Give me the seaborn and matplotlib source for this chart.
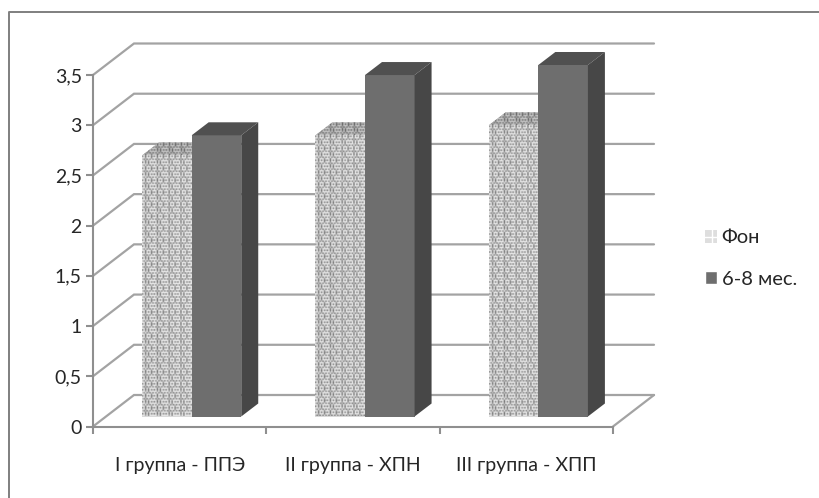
import numpy as np
import pandas as pd
import matplotlib
matplotlib.use("Agg")
import matplotlib.pyplot as plt
import seaborn as sns
from matplotlib.lines import Line2D
from matplotlib.patches import Patch, Polygon
from matplotlib.transforms import ScaledTranslation

groups = ["I группа - ППЭ", "II группа - ХПН", "III группа - ХПП"]
series_names = ["Фон", "6-8 мес."]
baseline_values = [2.6, 2.8, 2.9]
followup_values = [2.8, 3.4, 3.5]
y_ticks = [0, 0.5, 1, 1.5, 2, 2.5, 3, 3.5]
y_labels = ["0", "0,5", "1", "1,5", "2", "2,5", "3", "3,5"]

W, H, DPI = 820, 498, 100
LEFT, RIGHT, TOP, BOTTOM = 93, 613, 75, 426.5
WALL_DX, WALL_DY = 41, 31.5    # depth of the chart box, px
BAR_DX, BAR_DY = 12, 10        # front face of the bars inside the box, px
DEPTH_DX, DEPTH_DY = 17, 13    # depth of each bar, px
GRID = "#a3a3a3"
AXIS = "#8f8f8f"
TEXT = "#262626"

sns.set_theme(style="white")
plt.rcParams["font.family"] = ["Lato", "Open Sans", "DejaVu Sans"]

df = pd.DataFrame({
    "group": groups * 2,
    "value": baseline_values + followup_values,
    "series": [series_names[0]] * 3 + [series_names[1]] * 3,
})

fig = plt.figure(figsize=(W / DPI, H / DPI), dpi=DPI, facecolor="white")
ax = fig.add_axes([LEFT / W, 1 - BOTTOM / H, (RIGHT - LEFT) / W, (BOTTOM - TOP) / H])

sns.barplot(data=df, x="group", y="value", hue="series", hue_order=series_names,
            palette=["#d9d9d9", "#6e6e6e"], width=0.572, gap=0, dodge=True,
            saturation=1, legend=False, ax=ax, zorder=5)
ax.set_xlim(-0.5, 2.5)
ax.set_ylim(0, 3.5)
ax.set_xlabel("")
ax.set_ylabel("")
ax.patch.set_alpha(0)
for side in ("top", "right"):
    ax.spines[side].set_visible(False)
for side in ("left", "bottom"):
    ax.spines[side].set_color(AXIS)
    ax.spines[side].set_linewidth(1.5)
    ax.spines[side].set_zorder(3)

ax.set_yticks(y_ticks, y_labels)
ax.set_xticks([-0.5, 0.5, 1.5, 2.5], minor=True)
ax.set_xticks(range(3), groups)
ax.tick_params(axis="y", length=5, width=1.5, color=AXIS, pad=3, labelsize=14, labelcolor=TEXT, left=True)
ax.tick_params(axis="x", which="minor", length=5, width=1.5, color=AXIS, bottom=True)
ax.tick_params(axis="x", which="major", length=0, pad=22, labelsize=14, labelcolor=TEXT)


def px_offset(dx, dy):
    return ax.transData + ScaledTranslation(dx / DPI, dy / DPI, fig.dpi_scale_trans)


# Back wall and floor: each gridline runs back along the side wall, then across.
# They sit below the axes so the bars cover them.
back = px_offset(WALL_DX, WALL_DY)
for tick in y_ticks:
    x_px, y_px = ax.transData.transform((-0.5, tick))
    xb_px, yb_px = back.transform((-0.5, tick))
    xe_px, _ = back.transform((2.5, tick))
    fig.add_artist(Line2D([x_px / W, xb_px / W, xe_px / W],
                          [y_px / H, yb_px / H, yb_px / H],
                          color=GRID, lw=1.6, zorder=-1, solid_joinstyle="miter"))
x0_px, y0_px = ax.transData.transform((2.5, 0))
xb_px, yb_px = back.transform((2.5, 0))
fig.add_artist(Line2D([x0_px / W, xb_px / W], [y0_px / H, yb_px / H], color=GRID, lw=1.6, zorder=-1))

# Woven fill tile for the baseline series
tile = np.array([
    [.90, .88, .54, .90, .88, .90, .62, .90],
    [.56, .86, .46, .88, .52, .86, .50, .68],
    [.90, .88, .60, .90, .88, .90, .56, .88],
    [.78, .52, .74, .50, .80, .54, .82, .56],
    [.90, .86, .56, .88, .64, .90, .88, .90],
    [.52, .88, .48, .86, .46, .88, .56, .74],
    [.88, .90, .68, .88, .58, .90, .88, .90],
    [.82, .56, .88, .54, .76, .50, .80, .52],
])
CELL_PX = 1.5


def woven(x0, x1, y0, y1, clip, scale=1.0, zorder=5.1):
    # Repeat the tile at a fixed pixel size, whatever the size of the face
    sx = ax.transData.transform((1, 0))[0] - ax.transData.transform((0, 0))[0]
    sy = ax.transData.transform((0, 1))[1] - ax.transData.transform((0, 0))[1]
    rows = int(abs(y1 - y0) * sy / CELL_PX) + 1
    cols = int(abs(x1 - x0) * sx / CELL_PX) + 1
    tex = np.tile(tile, (rows // 8 + 1, cols // 8 + 1))[:rows, :cols]
    img = ax.imshow(tex * scale, cmap="gray", vmin=0, vmax=1, extent=(x0, x1, y0, y1),
                    aspect="auto", interpolation="bilinear", zorder=zorder,
                    transform=px_offset(BAR_DX, BAR_DY))
    img.set_clip_path(clip)


n_bars = len(groups)
u_x = 1 / (ax.transData.transform((1, 0))[0] - ax.transData.transform((0, 0))[0])
u_y = 1 / (ax.transData.transform((0, 1))[1] - ax.transData.transform((0, 0))[1])
front = px_offset(BAR_DX, BAR_DY)
for i, bar in enumerate(list(ax.patches[:2 * n_bars])):
    bar.set_transform(front)
    bar.set_clip_on(False)
    bar.set_edgecolor("none")
    x0, x1 = bar.get_x(), bar.get_x() + bar.get_width()
    h = bar.get_height()
    dx, dy = DEPTH_DX * u_x, DEPTH_DY * u_y
    top_pts = [(x0, h), (x1, h), (x1 + dx, h + dy), (x0 + dx, h + dy)]
    side_pts = [(x1, 0), (x1 + dx, dy), (x1 + dx, h + dy), (x1, h)]
    if i < n_bars:
        top = Polygon(top_pts, closed=True, fc="#a8a8a8", ec="none", transform=front,
                      clip_on=False, zorder=5)
        ax.add_patch(top)
        woven(x0, x1 + dx, h, h + dy, top, 0.85)
        woven(x0, x1, 0, h, bar)
    else:
        ax.add_patch(Polygon(top_pts, closed=True, fc="#505050", ec="none", transform=front,
                             clip_on=False, zorder=5.3))
        ax.add_patch(Polygon(side_pts, closed=True, fc="#474747", ec="none", transform=front,
                             clip_on=False, zorder=5.3))
        bar.set_zorder(5.3)

ax.set_xlim(-0.5, 2.5)
ax.set_ylim(0, 3.5)

plt.rcParams["hatch.color"] = "#b0b0b0"
ax.legend(handles=[Patch(fc="#dedede", lw=0, hatch="++", label=series_names[0]),
                   Patch(fc="#6e6e6e", label=series_names[1])],
          loc="center left", bbox_to_anchor=(705 / W, 1 - 258.5 / H),
          bbox_transform=fig.transFigure, frameon=False, fontsize=14.5,
          handlelength=0.62, handleheight=0.62, handletextpad=0.2, labelspacing=1.2,
          labelcolor=TEXT, borderpad=0, borderaxespad=0)

# Open outer frame along the top and left edges
fig.add_artist(Line2D([8.5 / W, 8.5 / W, 1], [0, 1 - 12.5 / H, 1 - 12.5 / H], color="#7f7f7f", lw=1.4))

fig.savefig("out.png", dpi=DPI, facecolor="white")
